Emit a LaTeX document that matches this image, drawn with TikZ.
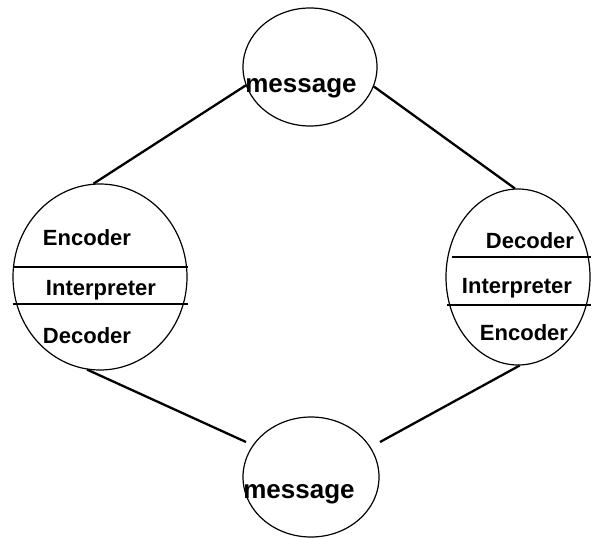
\documentclass[tikz,border=0pt]{standalone}
\usepackage{fontspec}
\setmainfont{Liberation Sans}
\usetikzlibrary{shapes.geometric}
\begin{document}
\begin{tikzpicture}[x=1pt,y=1pt,
  circ/.style={draw,ellipse,line width=1.2pt,inner sep=0pt},
  conn/.style={line width=2.3pt},
  divider/.style={line width=1.3pt},
  lab/.style={anchor=base,inner sep=0pt,font=\bfseries\fontsize{22}{25}\selectfont},
  msg/.style={anchor=base,inner sep=0pt,font=\bfseries\fontsize{26}{29}\selectfont}]
\useasboundingbox (0,0) rectangle (593,-538);
% circles
\node[circ,minimum width=134pt,minimum height=118pt] (T) at (310,-67) {};
\node[circ,minimum width=174pt,minimum height=186pt] (L) at (100,-277) {};
\node[circ,minimum width=144pt,minimum height=176pt] (R) at (518,-277) {};
\node[circ,minimum width=136pt,minimum height=120pt] (B) at (311,-477) {};
% dividers
\coordinate (l1a) at (13,-267); \coordinate (l1b) at (188,-267);
\coordinate (l2a) at (13,-304); \coordinate (l2b) at (188,-304);
\coordinate (r1a) at (452,-257); \coordinate (r1b) at (591,-257);
\coordinate (r2a) at (447,-305); \coordinate (r2b) at (591,-305);
\draw[divider] (l1a) -- (l1b);
\draw[divider] (l2a) -- (l2b);
\draw[divider] (r1a) -- (r1b);
\draw[divider] (r2a) -- (r2b);
% texts
\node[msg] (tm) at (301,-92) {message};
\node[msg] (bm) at (299,-498) {message};
\node[lab] (le) at (87,-245) {Encoder};
\node[lab] (li) at (101,-295) {Interpreter};
\node[lab] (ld) at (87,-343) {Decoder};
\node[lab] (rd) at (530,-248) {Decoder};
\node[lab] (ri) at (517,-293) {Interpreter};
\node[lab] (re) at (524,-340) {Encoder};
% connectors
\coordinate (bl) at (246,-442);
\coordinate (br) at (380,-442);
\draw[conn] (L.94) -- (T.196.5);
\draw[conn] (T.343) -- (R.92.5);
\draw[conn] (L.262) -- (bl);
\draw[conn] (R.271) -- (br);
\end{tikzpicture}
\end{document}
